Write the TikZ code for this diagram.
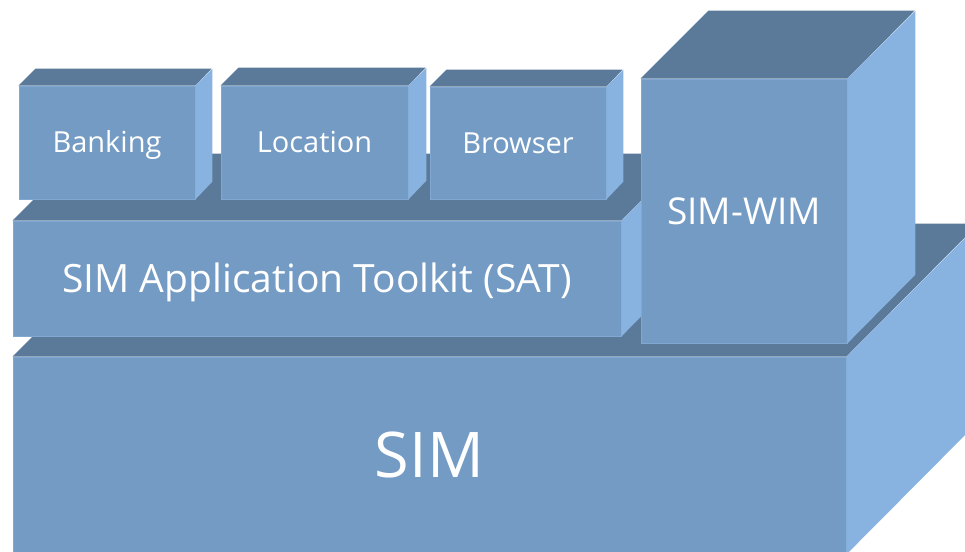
\documentclass[tikz,border=0pt]{standalone}
\usepackage{fontspec}
\setmainfont{Open Sans}
\definecolor{frontc}{RGB}{116,155,196}
\definecolor{topc}{RGB}{91,122,153}
\definecolor{sidec}{RGB}{136,179,224}
\definecolor{edgec}{RGB}{128,168,210}
\newcommand\blk[8]{%
  \node[face, minimum width={#4-#2}, minimum height={#5-#3}, text height={0.714*#7}, text depth=0pt] (#1) at ({(#2+#4)/2},{(#3+#5)/2}) {\fontsize{#7}{#7}\selectfont #8};
  \fill[topc] (#1.north west) -- ++(#6,-#6) -- ++({#4-#2},0) -- (#1.north east) -- cycle;
  \fill[sidec] (#1.north east) -- ++(#6,-#6) -- ++(0,{#5-#3}) -- (#1.south east) -- cycle;
}
\begin{document}
\begin{tikzpicture}[x=1pt,y=-1pt,
  face/.style={fill=frontc, draw=edgec, line width=0.8pt, inner sep=0pt, text=white, anchor=center}]
\useasboundingbox (0,0) rectangle (965,551);
\clip (0,0) rectangle (965,551);
\blk{sim}{13}{357}{846}{554}{133}{63}{SIM}
\blk{sat}{13}{221}{621}{336}{67}{39}{SIM Application Toolkit (SAT)}
\blk{wim}{641}{79}{847}{343}{68}{37}{SIM-WIM}
\blk{bank}{19}{86}{195}{199}{17}{29}{Banking}
\blk{loc}{221}{86}{408}{199}{18}{29}{Location}
\blk{brow}{430}{87}{606}{199}{17}{29}{Browser}
\end{tikzpicture}
\end{document}
